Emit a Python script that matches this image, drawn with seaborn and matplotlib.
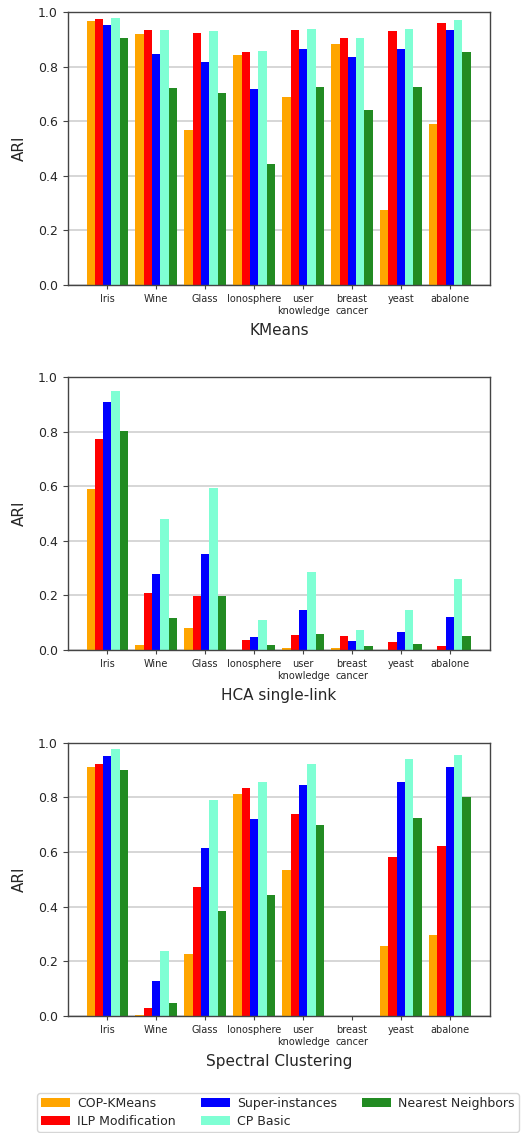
import numpy as np
import pandas as pd
import matplotlib
matplotlib.use("Agg")
import matplotlib.pyplot as plt
from matplotlib.patches import Patch
import seaborn as sns

datasets = ["Iris", "Wine", "Glass", "Ionosphere", "user\nknowledge",
            "breast\ncancer", "yeast", "abalone"]
methods = ["COP-KMeans", "ILP Modification", "Super-instances",
           "CP Basic", "Nearest Neighbors"]
colors = ["#FFA500", "#FF0000", "#0000FF", "#7FFFD4", "#228B22"]
panel_titles = ["KMeans", "HCA single-link", "Spectral Clustering"]

# KMeans
km_cop = [0.966, 0.919, 0.569, 0.841, 0.689, 0.884, 0.274, 0.591]
km_ilp = [0.974, 0.934, 0.924, 0.855, 0.934, 0.905, 0.929, 0.961]
km_sup = [0.952, 0.846, 0.818, 0.717, 0.863, 0.836, 0.863, 0.934]
km_cpb = [0.979, 0.934, 0.929, 0.858, 0.938, 0.905, 0.938, 0.969]
km_nn = [0.905, 0.722, 0.702, 0.444, 0.725, 0.642, 0.725, 0.855]

# HCA single-link
hca_cop = [0.589, 0.018, 0.079, 0.000, 0.006, 0.006, 0.000, 0.000]
hca_ilp = [0.774, 0.207, 0.198, 0.038, 0.056, 0.052, 0.028, 0.016]
hca_sup = [0.909, 0.278, 0.351, 0.048, 0.145, 0.032, 0.065, 0.121]
hca_cpb = [0.949, 0.479, 0.595, 0.111, 0.287, 0.074, 0.148, 0.259]
hca_nn = [0.801, 0.116, 0.198, 0.018, 0.060, 0.016, 0.023, 0.051]

# Spectral Clustering
sc_cop = [0.909, 0.005, 0.227, 0.812, 0.532, 0.0, 0.255, 0.296]
sc_ilp = [0.923, 0.028, 0.471, 0.832, 0.738, 0.0, 0.583, 0.620]
sc_sup = [0.950, 0.127, 0.615, 0.721, 0.845, 0.0, 0.855, 0.910]
sc_cpb = [0.978, 0.239, 0.789, 0.857, 0.923, 0.0, 0.938, 0.955]
sc_nn = [0.901, 0.048, 0.383, 0.444, 0.698, 0.0, 0.724, 0.802]

panels = [
    [km_cop, km_ilp, km_sup, km_cpb, km_nn],
    [hca_cop, hca_ilp, hca_sup, hca_cpb, hca_nn],
    [sc_cop, sc_ilp, sc_sup, sc_cpb, sc_nn],
]

W, H = 523, 1133
fig = plt.figure(figsize=(W / 100, H / 100), dpi=100)

axes_px = [(12, 285), (377, 650), (742.5, 1016)]
left_px, right_px = 67.7, 490

text_col = "#262626"

for (top, bot), series, title in zip(axes_px, panels, panel_titles):
    ax = fig.add_axes([left_px / W, 1 - bot / H, (right_px - left_px) / W, (bot - top) / H])
    rows = []
    for m, vals in zip(methods, series):
        for d, v in zip(datasets, vals):
            rows.append({"dataset": d, "method": m, "ARI": v})
    df = pd.DataFrame(rows)
    sns.barplot(data=df, x="dataset", y="ARI", hue="method",
                order=datasets, hue_order=methods, palette=colors,
                saturation=1, width=0.85, linewidth=0, errorbar=None,
                legend=False, ax=ax, zorder=2)
    ax.set_xlim(-0.81, 7.82)
    ax.set_ylim(0, 1.0)
    ax.set_yticks(np.arange(0, 1.01, 0.2))
    ax.set_yticklabels([f"{t:.1f}" for t in np.arange(0, 1.01, 0.2)])
    ax.set_axisbelow(True)
    ax.yaxis.grid(True, color="#d0d0d0", linewidth=1.2)
    ax.xaxis.grid(False)
    ax.tick_params(axis="x", labelsize=7, colors="#444444", labelcolor=text_col, length=3)
    ax.tick_params(axis="y", labelsize=9, colors="#444444", labelcolor=text_col, length=3.5)
    for s in ax.spines.values():
        s.set_color("#444444")
        s.set_linewidth(1.0)
    ax.set_xlabel(title, fontsize=11, color=text_col, labelpad=5)
    ax.set_ylabel("ARI", fontsize=11, color=text_col, labelpad=8)

handles = [Patch(facecolor=c, edgecolor="none") for c in colors]
fig.legend(handles, methods, loc="upper center",
           bbox_to_anchor=(278 / W, 1 - 1087 / H), ncol=3, fontsize=9,
           handlelength=2.3, handletextpad=0.6, columnspacing=2.0,
           labelspacing=0.4, borderpad=0.3, frameon=True, labelcolor=text_col)

fig.savefig("out.png", dpi=100)
